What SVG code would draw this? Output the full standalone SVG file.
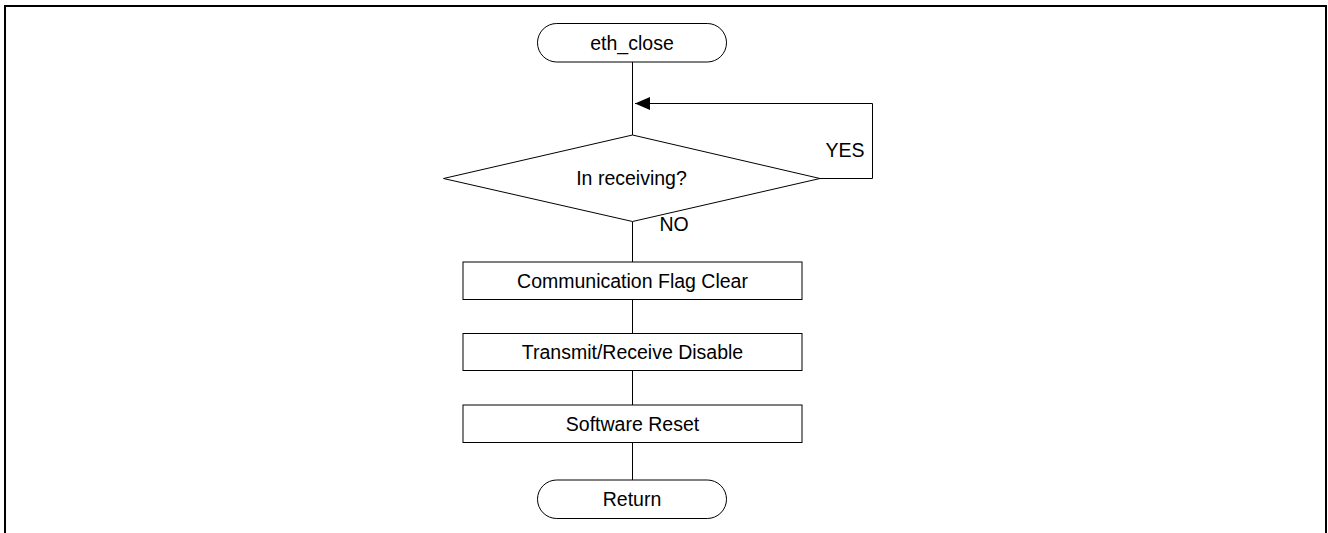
<svg xmlns="http://www.w3.org/2000/svg" width="1328" height="533" viewBox="0 0 1328 533">
<defs>
<style>
.shape{fill:#fff;stroke:#000;stroke-width:1}
.line{fill:none;stroke:#000;stroke-width:1}
text{font-family:"Liberation Sans",Arial,sans-serif;font-size:19.5px;fill:#000}
.c{text-anchor:middle}
</style>
<marker id="arr" markerWidth="16" markerHeight="14" refX="15" refY="7" orient="auto" markerUnits="userSpaceOnUse">
<path d="M0,0.5 L15,7 L0,13.5 Z" fill="#000"/>
</marker>
</defs>
<rect width="1328" height="533" fill="#fff"/>
<path d="M5,540 V6 H1326 V540" fill="none" stroke="#000" stroke-width="2"/>
<g id="connectors">
<line class="line" x1="632.5" y1="62" x2="632.5" y2="135"/>
<polyline class="line" points="820,178.5 872.5,178.5 872.5,103.5 635,103.5" marker-end="url(#arr)"/>
<line class="line" x1="632.5" y1="221.5" x2="632.5" y2="262"/>
<line class="line" x1="632.5" y1="299.5" x2="632.5" y2="333.5"/>
<line class="line" x1="632.5" y1="370.5" x2="632.5" y2="405"/>
<line class="line" x1="632.5" y1="442.5" x2="632.5" y2="480"/>
<text x="845" y="157" class="c">YES</text>
<text x="659.5" y="231">NO</text>
</g>
<g id="start">
<rect class="shape" x="537.5" y="23.5" width="189" height="38.5" rx="19.25"/>
<text x="632" y="49.5" class="c">eth_close</text>
</g>
<g id="decision">
<polygon class="shape" points="632.5,135 820,178.5 632.5,221.5 443.5,178.5"/>
<text x="631.5" y="185" class="c">In receiving?</text>
</g>
<g id="flagclear">
<rect class="shape" x="463" y="262" width="339" height="37.5"/>
<text x="632.5" y="287.5" class="c">Communication Flag Clear</text>
</g>
<g id="disable">
<rect class="shape" x="463" y="333.5" width="339" height="37"/>
<text x="632.5" y="359" class="c">Transmit/Receive Disable</text>
</g>
<g id="reset">
<rect class="shape" x="463" y="405" width="339" height="37.5"/>
<text x="632.5" y="430.5" class="c">Software Reset</text>
</g>
<g id="return">
<rect class="shape" x="537.5" y="480" width="189" height="38.5" rx="19.25"/>
<text x="632" y="506" class="c">Return</text>
</g>
</svg>
